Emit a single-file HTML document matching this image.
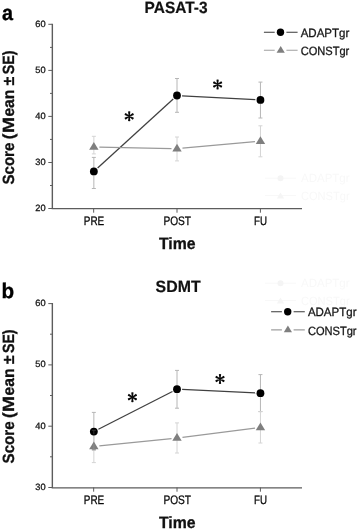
<!DOCTYPE html>
<html><head><meta charset="utf-8"><title>Chart</title>
<style>
html,body{margin:0;padding:0;background:#fff;}
body{width:358px;height:530px;overflow:hidden;}
#wrap{width:358px;height:530px;will-change:transform;}
.r{stroke:#111;stroke-width:.3px;}
.b{stroke:#111;stroke-width:.3px;}
.b2{stroke:#111;stroke-width:.2px;}
svg{display:block;text-rendering:geometricPrecision;font-family:"Liberation Sans",sans-serif;}
</style></head>
<body>
<div id="wrap">
<svg width="358" height="530" viewBox="0 0 358 530">
<rect width="358" height="530" fill="#fff"/>
<g fill="#f8f8f8" stroke="none" font-size="12"><text x="301" y="182.2" textLength="48.6" lengthAdjust="spacingAndGlyphs">ADAPTgr</text><text x="301" y="199.5" textLength="48.6" lengthAdjust="spacingAndGlyphs">CONSTgr</text><text x="301" y="287.3" textLength="48.6" lengthAdjust="spacingAndGlyphs">ADAPTgr</text><text x="301" y="304.6" textLength="48.6" lengthAdjust="spacingAndGlyphs">CONSTgr</text></g>
<path d="M265 178.2H296M265 195.5H296M265 283.2H296M265 300.5H296" stroke="#f8f8f8" stroke-width="1"/>
<circle cx="280.5" cy="178.2" r="3" fill="#f4f4f4"/><circle cx="280.5" cy="283.2" r="3" fill="#f4f4f4"/>
<path d="M280.5 192.5l3.6 6h-7.2zM280.5 297.5l3.6 6h-7.2z" fill="#f5f5f5"/>
<path d="M52.35 23.8V208.65H302" stroke="#5c5c5c" stroke-width="1.4" fill="none"/>
<path d="M48.3 24.3H52" stroke="#5c5c5c" stroke-width="1"/>
<path d="M48.3 70.4H52" stroke="#5c5c5c" stroke-width="1"/>
<path d="M48.3 116.4H52" stroke="#5c5c5c" stroke-width="1"/>
<path d="M48.3 162.5H52" stroke="#5c5c5c" stroke-width="1"/>
<path d="M48.3 208.5H52" stroke="#5c5c5c" stroke-width="1"/>
<path d="M50 47.4H52" stroke="#5c5c5c" stroke-width="1"/>
<path d="M50 93.4H52" stroke="#5c5c5c" stroke-width="1"/>
<path d="M50 139.4H52" stroke="#5c5c5c" stroke-width="1"/>
<path d="M50 185.5H52" stroke="#5c5c5c" stroke-width="1"/>
<path d="M93.67 208.5V212.7" stroke="#5c5c5c" stroke-width="1"/>
<path d="M177 208.5V212.7" stroke="#5c5c5c" stroke-width="1"/>
<path d="M260.4 208.5V212.7" stroke="#5c5c5c" stroke-width="1"/>
<text x="45.6" y="26.8" text-anchor="end" class="r" font-size="9.2" fill="#222" textLength="10.3" lengthAdjust="spacingAndGlyphs">60</text>
<text x="45.6" y="72.9" text-anchor="end" class="r" font-size="9.2" fill="#222" textLength="10.3" lengthAdjust="spacingAndGlyphs">50</text>
<text x="45.6" y="118.9" text-anchor="end" class="r" font-size="9.2" fill="#222" textLength="10.3" lengthAdjust="spacingAndGlyphs">40</text>
<text x="45.6" y="165.0" text-anchor="end" class="r" font-size="9.2" fill="#222" textLength="10.3" lengthAdjust="spacingAndGlyphs">30</text>
<text x="45.6" y="211.0" text-anchor="end" class="r" font-size="9.2" fill="#222" textLength="10.3" lengthAdjust="spacingAndGlyphs">20</text>
<text x="83.8" y="225.2" class="r" font-size="12.3" fill="#000" textLength="20.400000000000006" lengthAdjust="spacingAndGlyphs">PRE</text>
<text x="163.4" y="225.2" class="r" font-size="12.3" fill="#000" textLength="27.599999999999994" lengthAdjust="spacingAndGlyphs">POST</text>
<text x="254" y="225.2" class="r" font-size="12.3" fill="#000" textLength="13" lengthAdjust="spacingAndGlyphs">FU</text>
<text x="159.0" y="248.9" class="b" font-size="16.3" font-weight="bold" fill="#111" textLength="36.6" lengthAdjust="spacingAndGlyphs">Time</text>
<text x="144.6" y="13.2" class="b2" font-size="16.3" font-weight="bold" fill="#111" textLength="63.0" lengthAdjust="spacingAndGlyphs">PASAT-3</text>
<g transform="translate(14.1 184.6) rotate(-90)" class="b" font-size="16.2" font-weight="bold" fill="#111"><text x="0.0" y="0" textLength="42.0" lengthAdjust="spacingAndGlyphs">Score</text><text x="45.4" y="0" textLength="5.6" lengthAdjust="spacingAndGlyphs">(</text><text x="51.5" y="0" textLength="16.0" lengthAdjust="spacingAndGlyphs">M</text><text x="68.0" y="0" textLength="27.0" lengthAdjust="spacingAndGlyphs">ean</text><text x="99.2" y="0" textLength="8.8" lengthAdjust="spacingAndGlyphs">±</text><text x="110.4" y="0" textLength="23.6" lengthAdjust="spacingAndGlyphs">SE)</text></g>
<text x="2.1" y="20.2" font-size="21" font-weight="bold" fill="#000" stroke="#000" stroke-width="0.35" textLength="11.0" lengthAdjust="spacingAndGlyphs">a</text>
<path d="M93.85 157.4V188.5M91.85 157.4H95.85M91.85 188.5H95.85" stroke="#b6b6b6" stroke-width="1" fill="none"/>
<path d="M177 78.5V112.3M175.0 78.5H179.0M175.0 112.3H179.0" stroke="#b6b6b6" stroke-width="1" fill="none"/>
<path d="M260.45 82.1V118.0M258.45 82.1H262.45M258.45 118.0H262.45" stroke="#b6b6b6" stroke-width="1" fill="none"/>
<path d="M93.85 136.3V153.9M91.85 136.3H95.85M91.85 153.9H95.85" stroke="#d4d4d4" stroke-width="1" fill="none"/>
<path d="M177 137V160.9M175.0 137H179.0M175.0 160.9H179.0" stroke="#d4d4d4" stroke-width="1" fill="none"/>
<path d="M260.45 125.8V156.8M258.45 125.8H262.45M258.45 156.8H262.45" stroke="#d4d4d4" stroke-width="1" fill="none"/>
<path d="M97.62 167.96L173.23 98.94" stroke="#404040" stroke-width="1.25" fill="none"/>
<path d="M182.09 95.77L255.36 99.63" stroke="#404040" stroke-width="1.25" fill="none"/>
<circle cx="93.85" cy="171.4" r="3.9" fill="#000"/>
<circle cx="177" cy="95.5" r="3.9" fill="#000"/>
<circle cx="260.45" cy="99.9" r="3.9" fill="#000"/>
<path d="M99.35 147.11L171.50 148.59" stroke="#9a9a9a" stroke-width="1.2" fill="none"/>
<path d="M182.48 148.21L254.97 141.69" stroke="#9a9a9a" stroke-width="1.2" fill="none"/>
<path d="M93.85 142.0L98.55 149.79999999999998H89.14999999999999Z" fill="#7f7f7f"/>
<path d="M177 143.7L181.7 151.49999999999997H172.3Z" fill="#7f7f7f"/>
<path d="M260.45 136.2L265.15 143.99999999999997H255.75Z" fill="#7f7f7f"/>
<path d="M129.75 116.30L130.35 111.60L129.20 111.25L128.05 111.60L128.65 116.30ZM129.47 116.78L133.85 114.95L133.57 113.77L132.70 112.95L128.92 115.82ZM129.47 115.82L125.70 112.95L124.83 113.77L124.55 114.95L128.92 116.78ZM128.65 116.30L128.05 121.00L129.20 121.35L130.35 121.00L129.75 116.30ZM128.92 115.82L124.55 117.65L124.83 118.83L125.70 119.65L129.47 116.78ZM128.92 116.78L132.70 119.65L133.57 118.83L133.85 117.65L129.47 115.82Z" fill="#0a0a0a"/>
<path d="M218.15 84.50L218.75 79.80L217.60 79.45L216.45 79.80L217.05 84.50ZM217.88 84.98L222.25 83.15L221.97 81.97L221.10 81.15L217.32 84.02ZM217.88 84.02L214.10 81.15L213.23 81.97L212.95 83.15L217.32 84.98ZM217.05 84.50L216.45 89.20L217.60 89.55L218.75 89.20L218.15 84.50ZM217.32 84.02L212.95 85.85L213.23 87.03L214.10 87.85L217.88 84.98ZM217.32 84.98L221.10 87.85L221.97 87.03L222.25 85.85L217.88 84.02Z" fill="#0a0a0a"/>
<path d="M263.9 32.2H274.7M286.4 32.2H297.59999999999997" stroke="#3a3a3a" stroke-width="1.1"/>
<circle cx="280.5" cy="32.2" r="3.7" fill="#000"/>
<path d="M263.9 50.300000000000004H274.7M286.4 50.300000000000004H297.59999999999997" stroke="#a0a0a0" stroke-width="1.1"/>
<path d="M280.7 45.900000000000006L284.8 52.7H276.59999999999997Z" fill="#7f7f7f"/>
<text x="300.7" y="36.7" class="r" font-size="12" fill="#1a1a1a" textLength="48.6" lengthAdjust="spacingAndGlyphs">ADAPTgr</text>
<text x="300.7" y="55.1" class="r" font-size="12" fill="#1a1a1a" textLength="48.6" lengthAdjust="spacingAndGlyphs">CONSTgr</text>
<path d="M52.35 303.1V487.9H302" stroke="#5c5c5c" stroke-width="1.4" fill="none"/>
<path d="M48.3 303.6H52" stroke="#5c5c5c" stroke-width="1"/>
<path d="M48.3 364.9H52" stroke="#5c5c5c" stroke-width="1"/>
<path d="M48.3 426.2H52" stroke="#5c5c5c" stroke-width="1"/>
<path d="M48.3 487.5H52" stroke="#5c5c5c" stroke-width="1"/>
<path d="M50 334.2H52" stroke="#5c5c5c" stroke-width="1"/>
<path d="M50 395.5H52" stroke="#5c5c5c" stroke-width="1"/>
<path d="M50 456.8H52" stroke="#5c5c5c" stroke-width="1"/>
<path d="M93.67 487.5V491.7" stroke="#5c5c5c" stroke-width="1"/>
<path d="M177 487.5V491.7" stroke="#5c5c5c" stroke-width="1"/>
<path d="M260.4 487.5V491.7" stroke="#5c5c5c" stroke-width="1"/>
<text x="45.6" y="306.1" text-anchor="end" class="r" font-size="9.2" fill="#222" textLength="10.3" lengthAdjust="spacingAndGlyphs">60</text>
<text x="45.6" y="367.4" text-anchor="end" class="r" font-size="9.2" fill="#222" textLength="10.3" lengthAdjust="spacingAndGlyphs">50</text>
<text x="45.6" y="428.7" text-anchor="end" class="r" font-size="9.2" fill="#222" textLength="10.3" lengthAdjust="spacingAndGlyphs">40</text>
<text x="45.6" y="490.0" text-anchor="end" class="r" font-size="9.2" fill="#222" textLength="10.3" lengthAdjust="spacingAndGlyphs">30</text>
<text x="83.8" y="503.95" class="r" font-size="12.3" fill="#000" textLength="20.400000000000006" lengthAdjust="spacingAndGlyphs">PRE</text>
<text x="163.4" y="503.95" class="r" font-size="12.3" fill="#000" textLength="27.599999999999994" lengthAdjust="spacingAndGlyphs">POST</text>
<text x="254" y="503.95" class="r" font-size="12.3" fill="#000" textLength="13" lengthAdjust="spacingAndGlyphs">FU</text>
<text x="159.0" y="527.9" class="b" font-size="16.3" font-weight="bold" fill="#111" textLength="36.6" lengthAdjust="spacingAndGlyphs">Time</text>
<text x="155.6" y="291.7" class="b2" font-size="16.3" font-weight="bold" fill="#111" textLength="45.0" lengthAdjust="spacingAndGlyphs">SDMT</text>
<g transform="translate(14.1 463.4) rotate(-90)" class="b" font-size="16.2" font-weight="bold" fill="#111"><text x="0.0" y="0" textLength="42.0" lengthAdjust="spacingAndGlyphs">Score</text><text x="45.4" y="0" textLength="5.6" lengthAdjust="spacingAndGlyphs">(</text><text x="51.5" y="0" textLength="16.0" lengthAdjust="spacingAndGlyphs">M</text><text x="68.0" y="0" textLength="27.0" lengthAdjust="spacingAndGlyphs">ean</text><text x="99.2" y="0" textLength="8.8" lengthAdjust="spacingAndGlyphs">±</text><text x="110.4" y="0" textLength="23.6" lengthAdjust="spacingAndGlyphs">SE)</text></g>
<text x="1.4" y="297.5" font-size="21" font-weight="bold" fill="#000" stroke="#000" stroke-width="0.35" textLength="12.6" lengthAdjust="spacingAndGlyphs">b</text>
<path d="M93.85 412.4V449.8M91.85 412.4H95.85M91.85 449.8H95.85" stroke="#b6b6b6" stroke-width="1" fill="none"/>
<path d="M177 370.4V408.2M175.0 370.4H179.0M175.0 408.2H179.0" stroke="#b6b6b6" stroke-width="1" fill="none"/>
<path d="M260.45 374.6V411.6M258.45 374.6H262.45M258.45 411.6H262.45" stroke="#b6b6b6" stroke-width="1" fill="none"/>
<path d="M93.85 430.3V462.6M91.85 430.3H95.85M91.85 462.6H95.85" stroke="#d4d4d4" stroke-width="1" fill="none"/>
<path d="M177 422.9V453M175.0 422.9H179.0M175.0 453H179.0" stroke="#d4d4d4" stroke-width="1" fill="none"/>
<path d="M260.45 411.6V443M258.45 411.6H262.45M258.45 443H262.45" stroke="#d4d4d4" stroke-width="1" fill="none"/>
<path d="M98.39 429.28L172.46 391.52" stroke="#404040" stroke-width="1.25" fill="none"/>
<path d="M182.09 389.44L255.36 392.96" stroke="#404040" stroke-width="1.25" fill="none"/>
<circle cx="93.85" cy="431.6" r="3.9" fill="#000"/>
<circle cx="177" cy="389.2" r="3.9" fill="#000"/>
<circle cx="260.45" cy="393.2" r="3.9" fill="#000"/>
<path d="M91.85 430.3H95.85M93.85 430.3V434.3" stroke="#333" stroke-width="1" fill="none"/>
<path d="M99.32 445.94L171.53 438.56" stroke="#9a9a9a" stroke-width="1.2" fill="none"/>
<path d="M182.46 437.31L254.99 428.09" stroke="#9a9a9a" stroke-width="1.2" fill="none"/>
<path d="M93.85 441.5L98.55 449.3H89.14999999999999Z" fill="#7f7f7f"/>
<path d="M177 433.0L181.7 440.8H172.3Z" fill="#7f7f7f"/>
<path d="M260.45 422.4L265.15 430.2H255.75Z" fill="#7f7f7f"/>
<path d="M91.85 449.8H95.85M93.85 443.8V449.8" stroke="#8c8c8c" stroke-width="1" fill="none"/>
<path d="M132.95 397.20L133.55 392.50L132.40 392.15L131.25 392.50L131.85 397.20ZM132.68 397.68L137.05 395.85L136.77 394.68L135.90 393.85L132.12 396.72ZM132.68 396.72L128.90 393.85L128.03 394.68L127.75 395.85L132.12 397.68ZM131.85 397.20L131.25 401.90L132.40 402.25L133.55 401.90L132.95 397.20ZM132.12 396.72L127.75 398.55L128.03 399.72L128.90 400.55L132.68 397.68ZM132.12 397.68L135.90 400.55L136.77 399.72L137.05 398.55L132.68 396.72Z" fill="#0a0a0a"/>
<path d="M220.55 379.00L221.15 374.30L220.00 373.95L218.85 374.30L219.45 379.00ZM220.28 379.48L224.65 377.65L224.37 376.48L223.50 375.65L219.72 378.52ZM220.28 378.52L216.50 375.65L215.63 376.48L215.35 377.65L219.72 379.48ZM219.45 379.00L218.85 383.70L220.00 384.05L221.15 383.70L220.55 379.00ZM219.72 378.52L215.35 380.35L215.63 381.52L216.50 382.35L220.28 379.48ZM219.72 379.48L223.50 382.35L224.37 381.52L224.65 380.35L220.28 378.52Z" fill="#0a0a0a"/>
<path d="M271.1 311.8H281.90000000000003M293.6 311.8H304.8" stroke="#3a3a3a" stroke-width="1.1"/>
<circle cx="287.70000000000005" cy="311.8" r="3.7" fill="#000"/>
<path d="M271.1 329.90000000000003H281.90000000000003M293.6 329.90000000000003H304.8" stroke="#a0a0a0" stroke-width="1.1"/>
<path d="M287.90000000000003 325.50000000000006L292.00000000000006 332.30000000000007H283.8Z" fill="#7f7f7f"/>
<text x="307.90000000000003" y="316.3" class="r" font-size="12" fill="#1a1a1a" textLength="48.6" lengthAdjust="spacingAndGlyphs">ADAPTgr</text>
<text x="307.90000000000003" y="334.7" class="r" font-size="12" fill="#1a1a1a" textLength="48.6" lengthAdjust="spacingAndGlyphs">CONSTgr</text>
</svg>
</div>
</body></html>
